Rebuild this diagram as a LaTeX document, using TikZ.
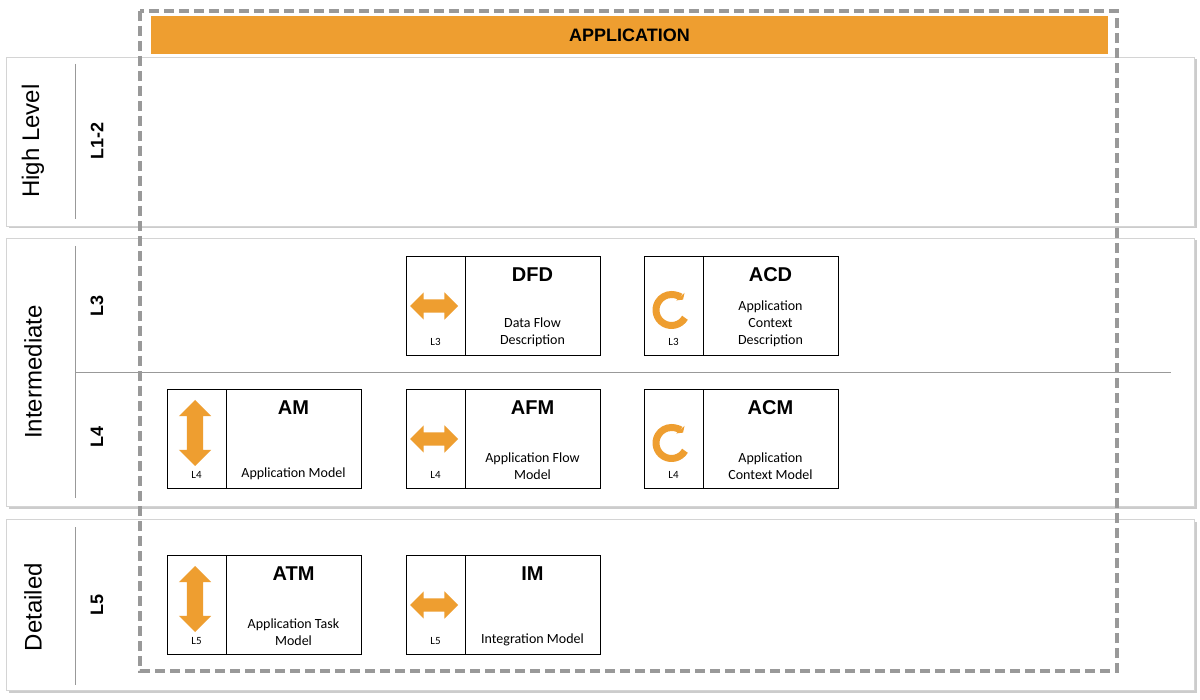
\documentclass[tikz,border=0pt]{standalone}
\usepackage{fontspec}
\setmainfont{Liberation Sans}
\newfontfamily\calibri{Carlito}
\usetikzlibrary{positioning,shapes.arrows,shadows,arrows.meta}
\definecolor{apporange}{HTML}{EE9E30}
\definecolor{bandgray}{HTML}{D4D4D4}

\begin{document}
\begin{tikzpicture}
  [x=1pt,y=-1pt,
   band/.style={rectangle,draw=bandgray,fill=white,minimum width=1188,
     drop shadow={shadow xshift=2.5pt,shadow yshift=-2.5pt,fill=black!40}},
   rule/.style={draw=black!40,line width=0.8pt},
   lvl/.style={rotate=90,font=\fontsize{24}{28}\selectfont},
   sub/.style={rotate=90,font=\bfseries\fontsize{18}{22}\selectfont},
   iconcell/.style={rectangle,draw,line width=0.8pt,fill=white,outer sep=0pt,
     inner sep=0pt,minimum width=59,minimum height=99},
   textcell/.style={iconcell,minimum width=135},
   ttl/.style={font=\bfseries\fontsize{20}{24}\selectfont},
   desc/.style={font=\calibri\fontsize{14}{17}\selectfont,align=center},
   tag/.style={font=\calibri\fontsize{11}{12}\selectfont},
   harrow/.style={double arrow,fill=apporange,inner xsep=0pt,inner ysep=6.5pt,
     minimum height=48,minimum width=27,double arrow head extend=7},
   varrow/.style={double arrow,fill=apporange,inner xsep=0pt,inner ysep=8pt,
     rotate=90,minimum height=66,minimum width=32,double arrow head extend=8},
   loop/.style={draw=apporange,line width=7pt,-{Triangle[length=4pt,width=11pt]}}]
  \useasboundingbox (0,0) rectangle (1200,700);

  % bands
  \node[band,minimum height=169] (high) at (600,141.5) {};
  \node[band,minimum height=268] (inter) at (600,372) {};
  \node[band,minimum height=171] (det) at (600,604.5) {};
  \draw[rule] (75,64) -- (75,219);
  \draw[rule] (75,246) -- (75,498);
  \draw[rule] (75,527) -- (75,685);
  \draw[rule] (75,372) -- (1171,372);

  \node[lvl] (high-t) at (33,141) {High Level};
  \node[sub] (l12) at (97,141) {L1-2};
  \node[lvl] (inter-t) at (33,372) {Intermediate};
  \node[sub] (l3) at (97,306) {L3};
  \node[sub] (l4) at (97,437) {L4};
  \node[lvl] (det-t) at (33,607) {Detailed};
  \node[sub] (l5) at (97,605) {L5};

  % application frame
  \draw[draw=black!40,line width=3.5pt,dash pattern=on 10pt off 5pt] (140,11) rectangle (1117,671);
  \node[fill=apporange,minimum width=957,minimum height=38,inner sep=0pt,
    font=\bfseries\fontsize{18}{22}\selectfont] (app) at (629.5,35) {APPLICATION};

  % L3
  \node[iconcell] (dfdl) at (435.5,305.5) {};
  \node[textcell,right=0pt of dfdl] (dfd) {};
  \node[harrow] (dfd-ar) at (434,306) {};
  \node[tag,above=6pt of dfdl.south] {L3};
  \node[ttl,below=8pt of dfd.north] {DFD};
  \node[desc,above=5pt of dfd.south] {Data Flow\\Description};

  \node[iconcell] (acdl) at (673.5,305.5) {};
  \node[textcell,right=0pt of acdl] (acd) {};
  \coordinate (acdc) at (671.5,310);
  \draw[loop] (acdc) ++(30:15.5) arc[start angle=30,end angle=318,radius=15.5];
  \node[tag,above=6pt of acdl.south] {L3};
  \node[ttl,below=8pt of acd.north] {ACD};
  \node[desc,above=5pt of acd.south] {Application\\Context\\Description};

  % L4
  \node[iconcell] (aml) at (196.5,439) {};
  \node[textcell,right=0pt of aml] (am) {};
  \node[varrow] (am-ar) at (195,433) {};
  \node[tag,above=6pt of aml.south] {L4};
  \node[ttl,below=8pt of am.north] {AM};
  \node[desc,above=5pt of am.south] {Application Model};

  \node[iconcell] (afml) at (435.5,439) {};
  \node[textcell,right=0pt of afml] (afm) {};
  \node[harrow] (afm-ar) at (434,439) {};
  \node[tag,above=6pt of afml.south] {L4};
  \node[ttl,below=8pt of afm.north] {AFM};
  \node[desc,above=5pt of afm.south] {Application Flow\\Model};

  \node[iconcell] (acml) at (673.5,439) {};
  \node[textcell,right=0pt of acml] (acm) {};
  \coordinate (acmc) at (671.5,443);
  \draw[loop] (acmc) ++(30:15.5) arc[start angle=30,end angle=318,radius=15.5];
  \node[tag,above=6pt of acml.south] {L4};
  \node[ttl,below=8pt of acm.north] {ACM};
  \node[desc,above=5pt of acm.south] {Application\\Context Model};

  % L5
  \node[iconcell] (atml) at (196.5,605) {};
  \node[textcell,right=0pt of atml] (atm) {};
  \node[varrow] (atm-ar) at (195,599) {};
  \node[tag,above=6pt of atml.south] {L5};
  \node[ttl,below=8pt of atm.north] {ATM};
  \node[desc,above=5pt of atm.south] {Application Task\\Model};

  \node[iconcell] (iml) at (435.5,605) {};
  \node[textcell,right=0pt of iml] (im) {};
  \node[harrow] (im-ar) at (434,605) {};
  \node[tag,above=6pt of iml.south] {L5};
  \node[ttl,below=8pt of im.north] {IM};
  \node[desc,above=5pt of im.south] {Integration Model};

\end{tikzpicture}
\end{document}
